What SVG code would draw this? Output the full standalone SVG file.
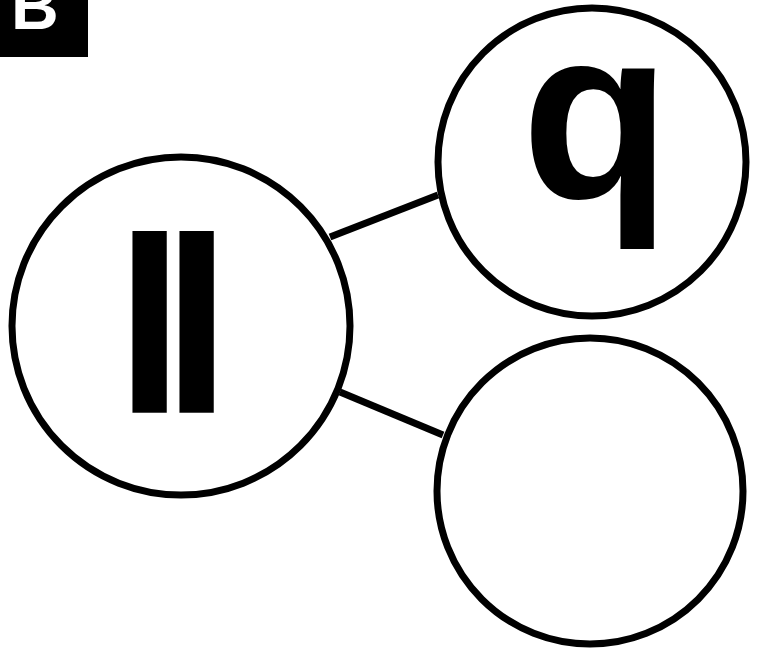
<svg xmlns="http://www.w3.org/2000/svg" width="762" height="654" viewBox="0 0 762 654">
<style>
.node{fill:#fff;stroke:#000;stroke-width:7}
.edge{stroke:#000;stroke-width:7;fill:none}
.lbl{font-family:"Liberation Sans",Arial,sans-serif;font-weight:bold;fill:#000}
</style>
<rect width="762" height="654" fill="#fff"/>
<g id="label-B">
<rect x="0" y="0" width="88" height="57" fill="#000"/>
<text x="11" y="29" class="lbl" style="fill:#fff;font-size:66px">B</text>
</g>
<g id="connectors">
<line class="edge" x1="330" y1="237" x2="438" y2="195"/>
<line class="edge" x1="340" y1="392" x2="443" y2="435"/>
</g>
<g id="node-left">
<circle class="node" cx="181" cy="326" r="169"/>
<text x="115" y="413" class="lbl" style="font-size:250px;letter-spacing:-22.5px">ll</text>
</g>
<g id="node-top">
<circle class="node" cx="592" cy="162" r="154"/>
<text x="596" y="198" class="lbl" text-anchor="middle" style="font-size:245px">q</text>
</g>
<g id="node-bottom">
<circle class="node" cx="590" cy="491" r="153"/>
</g>
</svg>
